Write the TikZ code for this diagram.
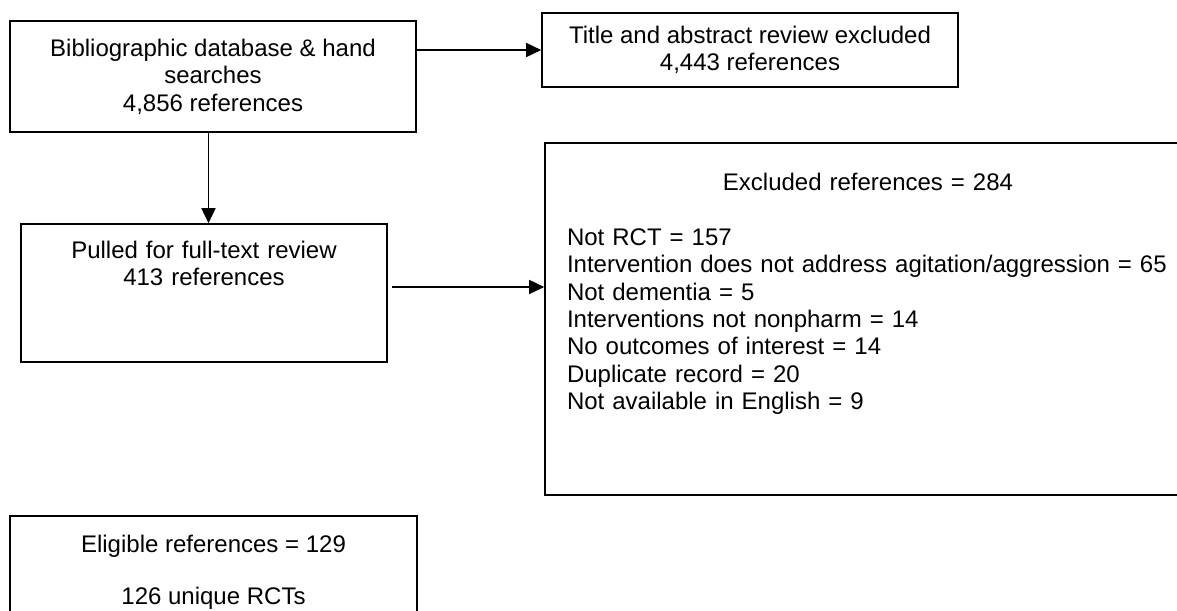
\documentclass[tikz,border=0pt]{standalone}
\usepackage{fontspec}
\setmainfont{Liberation Sans}
\usepackage{tikz}
\usetikzlibrary{arrows.meta, positioning, calc}
\setlength{\parindent}{0pt}

\begin{document}
\begin{tikzpicture}[
  x = 0.5pt, y = -0.5pt,
  font         = \fontsize{12pt}{13.7pt}\selectfont,
  % Plain black frames; positions in image pixels, sizes in pt
  box/.style   = {draw, line width=0.8pt, inner sep=0pt, align=center},
  arr/.style   = {-{Triangle[length=7.5pt, width=7pt]}, line width=0.8pt},
]

% Page frame (the last two boxes run off the page)
\useasboundingbox (0,0) rectangle (1177,610);
\clip (0,0) rectangle (1177,610);

\node[box, minimum width=203pt, minimum height=55.5pt]   (search)   at (213, 76.5)
      {Bibliographic database \& hand\\
       searches\\
       4,856 references};

\node[box, minimum width=208pt, minimum height=37pt]     (screened) at (750, 50)
      {Title and abstract review excluded\\
       4,443 references};

% text sits at the top: a deep strut pads the last line
\node[box, text width=183pt, minimum height=69pt]        (fulltext) at (204, 293)
      {Pulled for full-text review\\
       413 references\rule[-29.5pt]{0pt}{0pt}};

\node[box, text width=301pt, inner xsep=11pt, align=left,
      minimum height=176pt]                              (excluded) at (868, 319)
      {{\centering Excluded references = 284\par}
       \vspace{\baselineskip}
       Not RCT = 157\\
       Intervention does not address agitation/aggression = 65\\
       Not dementia = 5\\
       Interventions not nonpharm = 14\\
       No outcomes of interest = 14\\
       Duplicate record = 20\\
       Not available in English = 9\rule[-27.5pt]{0pt}{0pt}};

\node[box, minimum width=203.5pt, minimum height=56pt]   (eligible) at (213.5, 572)
      {Eligible references = 129\\[12.5pt]
       126 unique RCTs};

% ── Arrows ─────────────────────────────────────────────────────────────────────
\coordinate (mid) at ($(search.south)!0.5!(fulltext.north)$);
\coordinate (out) at ([xshift=2pt, yshift=3pt]fulltext.east);

\draw[arr] (search.east |- screened) -- (screened);
\draw[arr] (search.south -| mid) -- (fulltext.north -| mid);
\draw[arr] (out) -- (out -| excluded.west);

\end{tikzpicture}
\end{document}
